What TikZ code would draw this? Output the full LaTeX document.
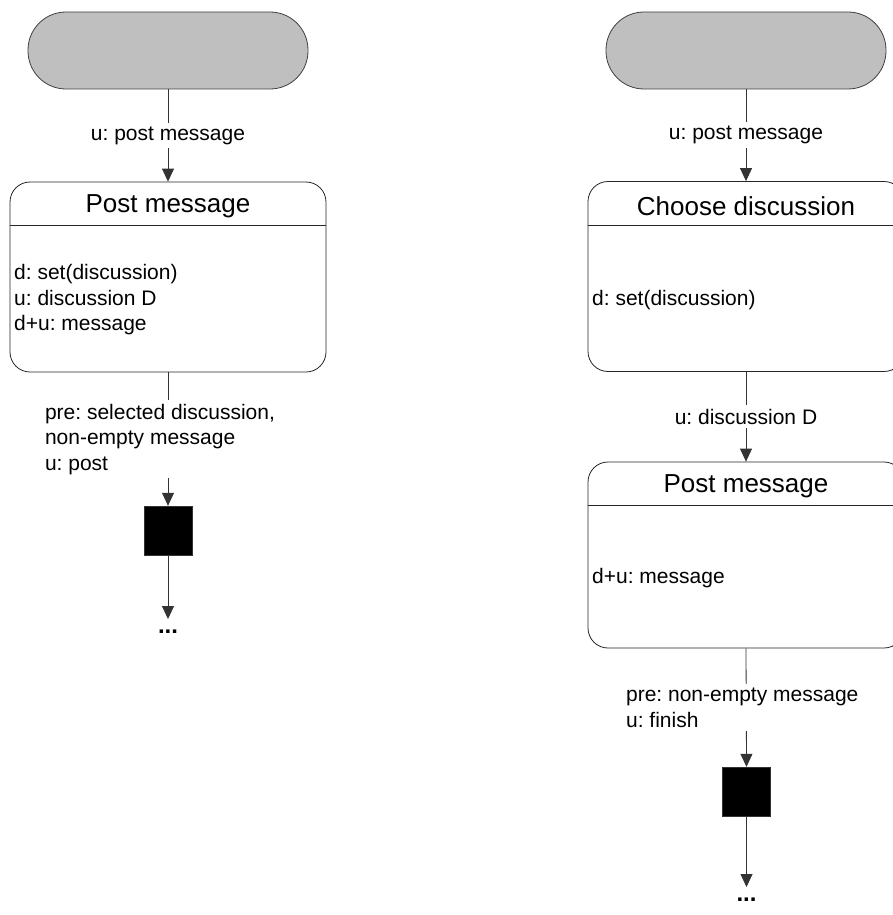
\documentclass[tikz,border=0pt]{standalone}
\usepackage{fontspec}
\setmainfont{Liberation Sans}
\frenchspacing
\usetikzlibrary{arrows.meta,positioning}

\tikzset{
  startnode/.style={draw=black!75, fill=black!25, rounded corners=38pt, minimum width=280pt, minimum height=77pt, inner sep=0pt, line width=0.8pt},
  statebox/.style={draw=black!85, rounded corners=20pt, minimum width=316pt, minimum height=190pt, inner sep=0pt, line width=0.8pt},
  titletext/.style={font=\fontsize{26}{30}\selectfont, inner sep=0pt},
  bodytext/.style={font=\fontsize{21}{25.5}\selectfont, align=left, inner sep=0pt, anchor=west},
  lbl/.style={font=\fontsize{21}{25.5}\selectfont, align=left, fill=white, inner sep=4pt},
  endbox/.style={fill=black, draw=black!80, minimum width=48pt, minimum height=49pt, inner sep=0pt},
  conn/.style={draw=black!80, line width=0.8pt, -{Triangle[length=13pt,width=12pt]}},
  dots/.style={font=\fontsize{24}{28}\selectfont\bfseries, inner sep=0pt}
}

\begin{document}
\begin{tikzpicture}[x=1pt,y=1pt,yscale=-1,xscale=1]
    \useasboundingbox (0,0) rectangle (893,915);

    % left flow
    \node[startnode] (start1) at (168,50.5) {};
    \node[statebox] (box1) at (168,277) {};
    \draw[draw=black!85, line width=0.8pt] (box1.west |- 0,225) -- (box1.east |- 0,225);
    \node[titletext] (title1) at (168,206) {Post message};
    \node[bodytext] (body1) at (14,300) {d: set(discussion)\\u: discussion D\\d+u: message};
    \node[endbox] (sq1) at (168,530.5) {};
    \coordinate (end1) at (168,619);
    \node[dots, below=11pt of end1] (dots1) {...};

    \draw[conn] (start1) -- node[lbl] {u: post message} (box1);
    \draw[conn] (box1) -- node[lbl, xshift=-8pt] {pre: selected discussion,\\non-empty message\\u: post} (sq1);
    \draw[conn] (sq1) -- (end1);

    % right flow
    \node[startnode] (start2) at (746,50.5) {};
    \node[statebox] (box2) at (746,276.5) {};
    \draw[draw=black!85, line width=0.8pt] (box2.west |- 0,225) -- (box2.east |- 0,225);
    \node[titletext] (title2) at (746,206) {Choose discussion};
    \node[bodytext] (body2) at (592,300) {d: set(discussion)};
    \node[statebox, minimum height=186pt] (box3) at (746,555) {};
    \draw[draw=black!85, line width=0.8pt] (box3.west |- 0,505) -- (box3.east |- 0,505);
    \node[titletext] (title3) at (746,486) {Post message};
    \node[bodytext] (body3) at (592,578) {d+u: message};
    \node[endbox] (sq2) at (746.5,791.5) {};
    \coordinate (end2) at (746.5,887);
    \node[dots, below=11pt of end2] (dots2) {...};

    \draw[conn] (start2) -- node[lbl] {u: post message} (box2);
    \draw[conn] (box2) -- node[lbl] {u: discussion D} (box3);
    \draw[conn] (box3.south) -- node[lbl, xshift=-4pt] {pre: non-empty message\\u: finish} (sq2.north);
    \draw[conn] (sq2) -- (end2);

\end{tikzpicture}
\end{document}
